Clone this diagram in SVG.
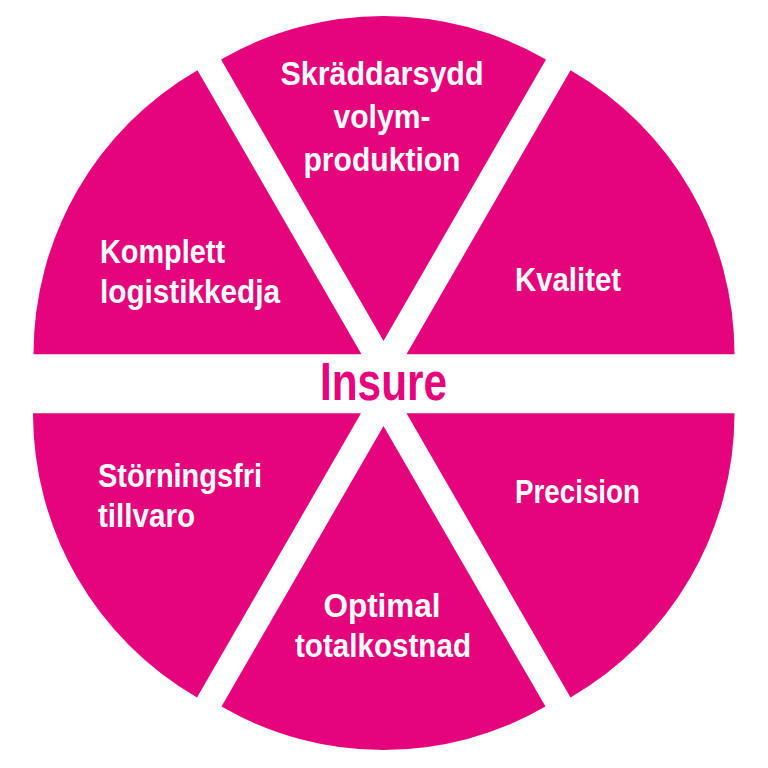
<svg xmlns="http://www.w3.org/2000/svg" width="768" height="768" viewBox="0 0 768 768">
  <style>
    .seg { fill: #E5047B; }
    .lbl { fill: #FFFFFF; font-family: "Liberation Sans", Arial, sans-serif; font-weight: bold; font-size: 34px; }
    .mid { text-anchor: middle; }
    .center { fill: #E5047B; font-family: "Liberation Sans", Arial, sans-serif; font-weight: bold; font-size: 53px; }
  </style>
  <rect width="768" height="768" fill="#FFFFFF"/>
  <g id="node-top">
    <path class="seg" d="M383.5,341 L221,59.5 A325,325 0 0 1 546,59.5 Z"/>
    <text class="lbl mid" x="382" y="85" textLength="203" lengthAdjust="spacingAndGlyphs">Skräddarsydd</text>
    <text class="lbl mid" x="382" y="128" textLength="97" lengthAdjust="spacingAndGlyphs">volym-</text>
    <text class="lbl mid" x="382" y="171" textLength="157" lengthAdjust="spacingAndGlyphs">produktion</text>
  </g>
  <g id="node-top-right">
    <path class="seg" d="M406.5,354.3 L570.5,70.2 A328,328 0 0 1 734.5,354.3 Z"/>
    <text class="lbl" x="515" y="291" textLength="106" lengthAdjust="spacingAndGlyphs">Kvalitet</text>
  </g>
  <g id="node-bottom-right">
    <path class="seg" d="M406.5,413.3 L734.5,413.3 A328,328 0 0 1 570.5,697.4 Z"/>
    <text class="lbl" x="515" y="503" textLength="125" lengthAdjust="spacingAndGlyphs">Precision</text>
  </g>
  <g id="node-bottom">
    <path class="seg" d="M383.5,426 L545.5,706.6 A324,324 0 0 1 221.5,706.6 Z"/>
    <text class="lbl mid" x="382" y="617" textLength="117" lengthAdjust="spacingAndGlyphs">Optimal</text>
    <text class="lbl mid" x="383" y="657" textLength="176" lengthAdjust="spacingAndGlyphs">totalkostnad</text>
  </g>
  <g id="node-bottom-left">
    <path class="seg" d="M361,413.3 L197,697.4 A328,328 0 0 1 33,413.3 Z"/>
    <text class="lbl" x="98" y="487" textLength="164" lengthAdjust="spacingAndGlyphs">Störningsfri</text>
    <text class="lbl" x="98" y="527" textLength="97" lengthAdjust="spacingAndGlyphs">tillvaro</text>
  </g>
  <g id="node-top-left">
    <path class="seg" d="M361.5,354.3 L33.5,354.3 A328,328 0 0 1 197.5,70.2 Z"/>
    <text class="lbl" x="100" y="263" textLength="125" lengthAdjust="spacingAndGlyphs">Komplett</text>
    <text class="lbl" x="100" y="303" textLength="180" lengthAdjust="spacingAndGlyphs">logistikkedja</text>
  </g>
  <g id="node-center">
    <text class="center" x="320" y="400" textLength="127" lengthAdjust="spacingAndGlyphs">Insure</text>
  </g>
  <g id="connectors"></g>
</svg>
